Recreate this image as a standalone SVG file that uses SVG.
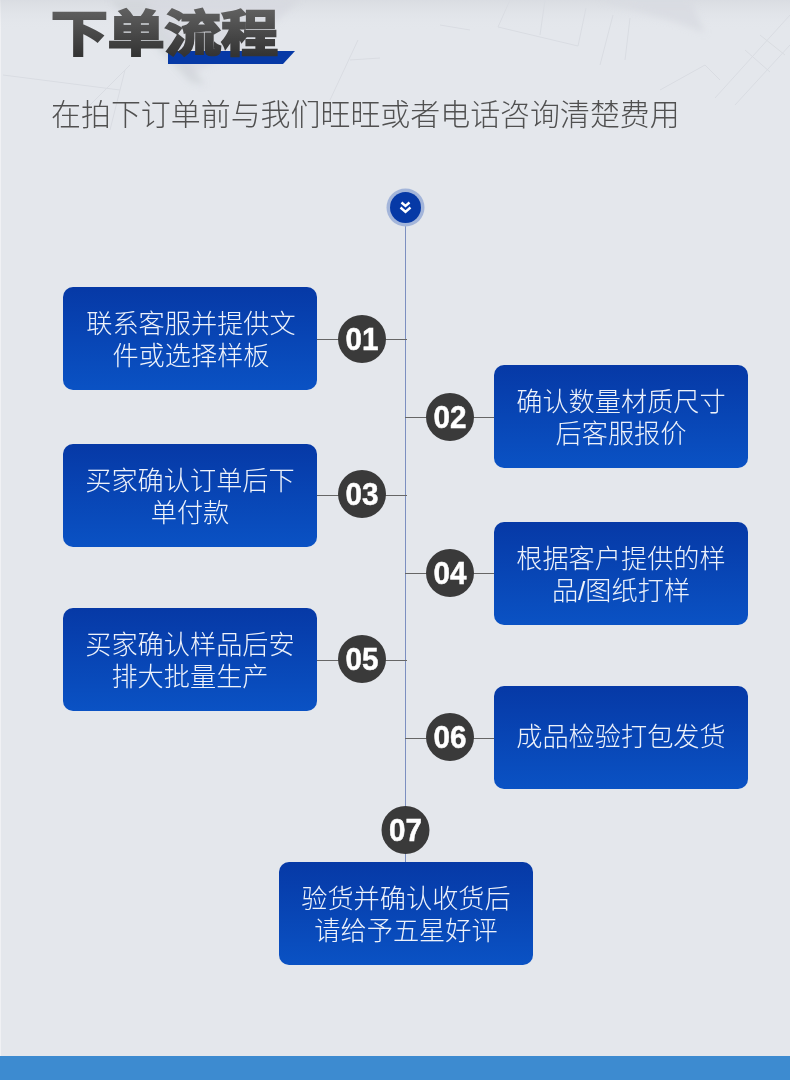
<svg xmlns="http://www.w3.org/2000/svg" width="790" height="1080" viewBox="0 0 790 1080">
<defs>
<linearGradient id="box" x1="0" y1="0" x2="0" y2="1"><stop offset="0" stop-color="#0639a6"/><stop offset="1" stop-color="#0a52c4"/></linearGradient>
<linearGradient id="ttl" gradientUnits="userSpaceOnUse" x1="0" y1="-42" x2="0" y2="4"><stop offset="0" stop-color="#606060"/><stop offset="1" stop-color="#343434"/></linearGradient>
<linearGradient id="top" x1="0" y1="0" x2="0" y2="1"><stop offset="0" stop-color="#cfd2d8" stop-opacity=".5"/><stop offset="1" stop-color="#e4e7ec" stop-opacity="0"/></linearGradient>
<filter id="soft" x="-20%" y="-20%" width="140%" height="140%"><feGaussianBlur stdDeviation="3"/></filter>
<filter id="soft2" x="-5%" y="-5%" width="110%" height="110%"><feGaussianBlur stdDeviation=".5"/></filter>
<style>
.cjk{font-family:"Liberation Sans","Noto Sans CJK SC",sans-serif}
.b{fill:url(#box)}
.t{font-size:26.2px;font-weight:300;fill:#eef2fa;text-anchor:middle}
.c{fill:#3a3a3a}
.n{font-family:"Liberation Sans",sans-serif;font-weight:700;font-size:32px;fill:#fff;stroke:#fff;stroke-width:.5;text-anchor:middle}
.v{stroke:#7c8fc0;stroke-width:1;fill:none}
.h{stroke:#666;stroke-width:1;fill:none}
.sk{stroke:#d9dce2;stroke-width:1;fill:none}
</style>
</defs>
<rect width="790" height="1080" fill="#e4e7ec"/>
<rect x="0" y="0" width="1" height="1056" fill="#f0f1f4"/>
<g id="backdrop">
<rect x="0" y="0" width="790" height="30" fill="url(#top)"/>
<g filter="url(#soft)">
<path d="M110 0 L145 0 L205 85 L190 82 Z" fill="#cdd0d6" opacity=".6"/>
<path d="M145 0 L300 0 L250 45 L190 75 Z" fill="#d3d6dc" opacity=".55"/>
<path d="M600 0 L690 0 L705 33 L670 20 Z" fill="#d8dbe1" opacity=".8"/>
</g>
<g filter="url(#soft2)">
<path class="sk" d="M498 27 L578 46 L586 8 M498 27 L510 0 M540 35 L545 0 M600 65 L613 15 M625 60 L630 18"/>
<path class="sk" d="M715 98 L790 15 M735 105 L790 45 M745 50 L770 72 M760 35 L785 55"/>
<path class="sk" d="M85 110 L130 65 M110 130 L125 70 M3 75 L120 90 M440 25 L470 30 M660 90 L705 65 L720 80 M350 60 L380 58 M330 100 L358 40"/>
</g>
</g>
<g id="title">
<polygon points="168,51 295,51 283,64 168,64" fill="#0639a6"/>
<text class="cjk" transform="translate(51,51) scale(1.17,1)" font-size="48.500" font-weight="700" fill="url(#ttl)" stroke="url(#ttl)" stroke-width="2.400">下单流程</text>
<text class="cjk" x="51" y="125" font-size="29.950" font-weight="300" fill="#505050">在拍下订单前与我们旺旺或者电话咨询清楚费用</text>
</g>
<g id="connectors">
<line class="v" x1="405.500" y1="225" x2="405.500" y2="862"/>
<line class="h" x1="317" y1="339.500" x2="407" y2="339.500"/>
<line class="h" x1="405" y1="417.500" x2="494" y2="417.500"/>
<line class="h" x1="317" y1="495.500" x2="407" y2="495.500"/>
<line class="h" x1="405" y1="573.500" x2="494" y2="573.500"/>
<line class="h" x1="317" y1="660.500" x2="407" y2="660.500"/>
<line class="h" x1="405" y1="738.500" x2="494" y2="738.500"/>
</g>
<g id="start">
<circle cx="405.500" cy="207.500" r="19" fill="#a3b5da"/>
<circle cx="405.500" cy="207.500" r="15.500" fill="#0639a6"/>
<path d="M401.500 202.500 L405.500 206 L409.500 202.500 M400.500 207.500 L405.500 212 L410.500 207.500" fill="none" stroke="#fff" stroke-width="2.400"/>
</g>
<g id="step01"><rect class="b" x="63" y="287" width="254" height="103" rx="10"/><text class="cjk t" x="191" y="333">联系客服并提供文</text><text class="cjk t" x="191" y="365">件或选择样板</text><circle class="c" cx="362" cy="339" r="24"/><text class="n" x="362" y="349.500" textLength="33" lengthAdjust="spacingAndGlyphs">01</text></g>
<g id="step02"><rect class="b" x="494" y="365" width="254" height="103" rx="10"/><text class="cjk t" x="621" y="410.500">确认数量材质尺寸</text><text class="cjk t" x="621" y="442.500">后客服报价</text><circle class="c" cx="450" cy="417" r="24"/><text class="n" x="450" y="427.500" textLength="33" lengthAdjust="spacingAndGlyphs">02</text></g>
<g id="step03"><rect class="b" x="63" y="444" width="254" height="103" rx="10"/><text class="cjk t" x="190" y="490">买家确认订单后下</text><text class="cjk t" x="190" y="522">单付款</text><circle class="c" cx="362" cy="494" r="24"/><text class="n" x="362" y="504.500" textLength="33" lengthAdjust="spacingAndGlyphs">03</text></g>
<g id="step04"><rect class="b" x="494" y="522" width="254" height="103" rx="10"/><text class="cjk t" x="621" y="568">根据客户提供的样</text><text class="cjk t" x="621" y="600">品/图纸打样</text><circle class="c" cx="450" cy="573" r="24"/><text class="n" x="450" y="583.500" textLength="33" lengthAdjust="spacingAndGlyphs">04</text></g>
<g id="step05"><rect class="b" x="63" y="608" width="254" height="103" rx="10"/><text class="cjk t" x="190" y="654">买家确认样品后安</text><text class="cjk t" x="190" y="686">排大批量生产</text><circle class="c" cx="362" cy="659" r="24"/><text class="n" x="362" y="669.500" textLength="33" lengthAdjust="spacingAndGlyphs">05</text></g>
<g id="step06"><rect class="b" x="494" y="686" width="254" height="103" rx="10"/><text class="cjk t" x="621" y="746">成品检验打包发货</text><circle class="c" cx="450" cy="737" r="24"/><text class="n" x="450" y="747.500" textLength="33" lengthAdjust="spacingAndGlyphs">06</text></g>
<g id="step07"><rect class="b" x="279" y="862" width="254" height="103" rx="10"/><text class="cjk t" x="406" y="908">验货并确认收货后</text><text class="cjk t" x="406" y="940">请给予五星好评</text><circle class="c" cx="405.500" cy="830" r="24"/><text class="n" x="405.500" y="840.500" textLength="33" lengthAdjust="spacingAndGlyphs">07</text></g>
<rect id="footer" x="0" y="1056" width="790" height="24" fill="#3d8bd0"/>
</svg>
